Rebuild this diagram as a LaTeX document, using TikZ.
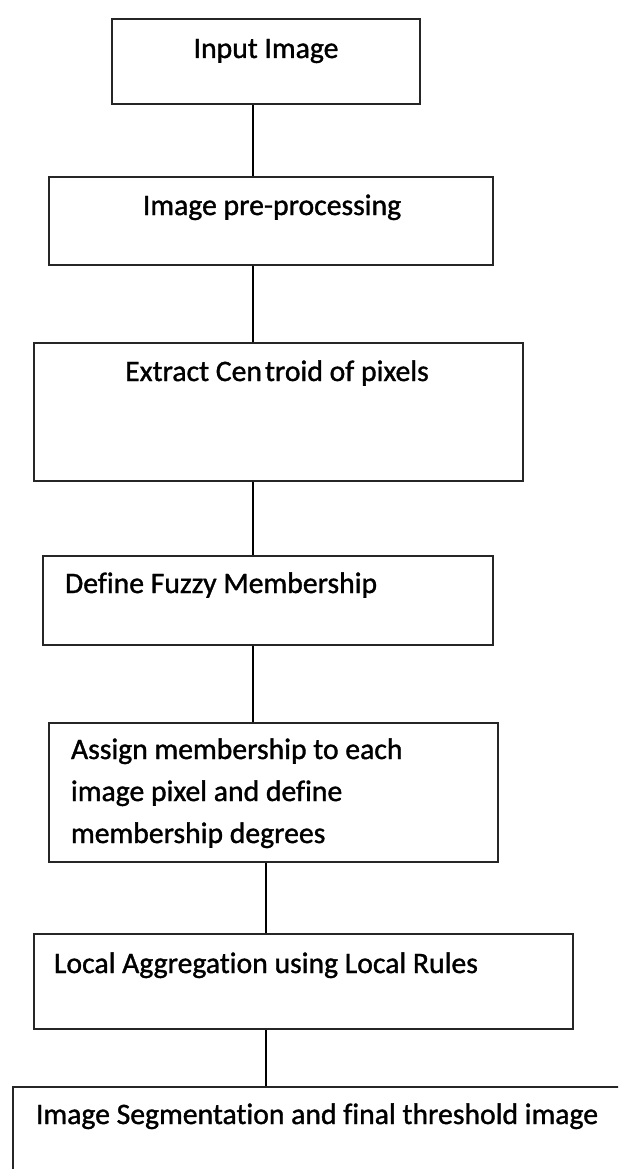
\documentclass[tikz,border=0pt]{standalone}
\usepackage{fontspec}
\setmainfont[Ligatures=NoCommon]{Carlito}
\newfontfamily\boxfont[Ligatures=NoCommon,FakeBold=1.2]{Carlito}

\begin{document}
\begin{tikzpicture}
[x=1pt,y=-1pt,line width=2pt,
 box/.style={draw=black!85,rectangle,inner sep=0pt},
 lbl/.style={inner sep=0pt,font=\boxfont\fontsize{29.7}{42}\selectfont}]
\useasboundingbox (0,0) rectangle (618,1169);
\clip (0,0) rectangle (618,1169);
\node[box,minimum width=308pt,minimum height=85pt] (b1) at (266,61.5) {};
\node[box,minimum width=444pt,minimum height=88pt] (b2) at (271,221) {};
\node[box,minimum width=489pt,minimum height=138pt] (b3) at (278.5,412) {};
\node[box,minimum width=450pt,minimum height=89pt] (b4) at (268,600.5) {};
\node[box,minimum width=449pt,minimum height=139pt] (b5) at (273.5,792.5) {};
\node[box,minimum width=539pt,minimum height=95pt] (b6) at (303.5,981.5) {};
\node[box,minimum width=687pt,minimum height=163pt] (b7) at (356.5,1168.5) {};
\node[lbl,anchor=base] (t1) at (266,58) {Input Image};
\node[lbl,anchor=base] (t2) at (272,215) {Image pre-processing};
\node[lbl,anchor=base] (t3) at (277,381) {Extract Cen\kern3pt troid of pixels};
\node[lbl,anchor=base west] (t4) at (64,593) {Define Fuzzy Membership};
\node[lbl,anchor=base west,align=left] (t5) at (70,843) {Assign membership to each\\image pixel and define\\membership degrees};
\node[lbl,anchor=base west] (t6) at (53,973) {Local Aggregation using Local Rules};
\node[lbl,anchor=base west] (t7) at (35,1124) {Image Segmentation and final threshold image};
\coordinate (spine) at (253,0);
\coordinate (spine2) at (266,0);
\foreach \from/\to in {b1/b2,b2/b3,b3/b4,b4/b5}
\draw (\from.south -| spine) -- (\to.north -| spine);
\foreach \from/\to in {b5/b6,b6/b7}
\draw (\from.south -| spine2) -- (\to.north -| spine2);
\end{tikzpicture}
\end{document}
